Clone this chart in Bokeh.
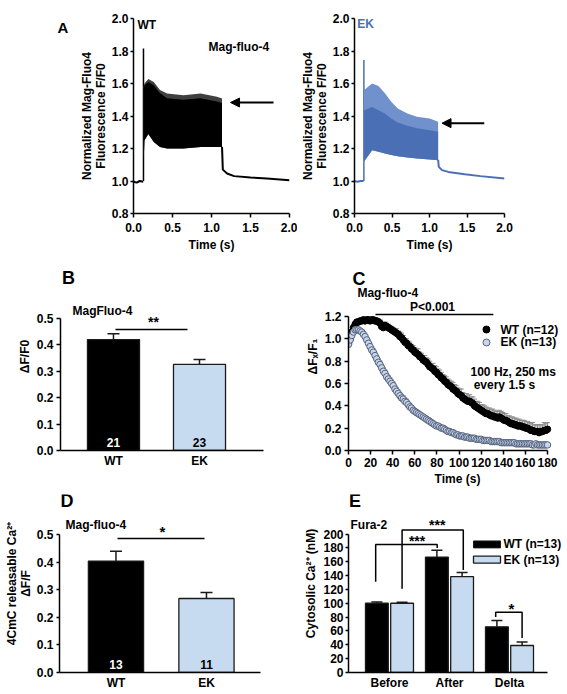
from bokeh.plotting import figure
from bokeh.layouts import row, column
from bokeh.models import (Range1d, FixedTicker, PrintfTickFormatter, Label, Whisker, TeeHead,
                          ColumnDataSource, Arrow, NormalHead)
from bokeh.embed import file_html
from bokeh.resources import INLINE

FONT = "Liberation Sans"

# ---------------- DATA ----------------
# Panel A, WT trace (time s, F/F0)
a_wt_base_t = [0.0, 0.04, 0.08, 0.125]
a_wt_base_v = [0.995, 0.99, 1.0, 0.995]
a_wt_spike_t = 0.128
a_wt_spike_v = 1.815
a_wt_band_t = [0.13, 0.14, 0.19, 0.26, 0.34, 0.43, 0.64, 0.86, 1.07, 1.135]
a_wt_upper = [1.58, 1.60, 1.627, 1.61, 1.56, 1.538, 1.528, 1.538, 1.518, 1.508]
a_wt_mid = [1.56, 1.59, 1.61, 1.59, 1.54, 1.51, 1.50, 1.51, 1.49, 1.48]
a_wt_lower = [1.12, 1.25, 1.29, 1.24, 1.21, 1.20, 1.20, 1.21, 1.21, 1.21]
a_wt_decay_t = [1.135, 1.145, 1.2, 1.29, 1.5, 1.71, 2.0]
a_wt_decay_v = [1.21, 1.07, 1.046, 1.03, 1.022, 1.015, 1.005]

# Panel A, EK trace
a_ek_base_t = [0.0, 0.04, 0.08, 0.122]
a_ek_base_v = [1.0, 0.995, 1.0, 1.0]
a_ek_spike_t = 0.125
a_ek_spike_v = 1.744
a_ek_band_t = [0.128, 0.235, 0.32, 0.406, 0.49, 0.577, 0.705, 0.833, 1.004, 1.115]
a_ek_upper = [1.56, 1.60, 1.585, 1.54, 1.487, 1.446, 1.415, 1.395, 1.385, 1.364]
a_ek_mid = [1.436, 1.456, 1.436, 1.415, 1.385, 1.36, 1.34, 1.325, 1.313, 1.303]
a_ek_lower = [1.12, 1.19, 1.18, 1.17, 1.16, 1.153, 1.145, 1.138, 1.132, 1.128]
a_ek_decay_t = [1.115, 1.124, 1.167, 1.25, 1.47, 1.68, 2.0]
a_ek_decay_v = [1.13, 1.087, 1.067, 1.056, 1.042, 1.03, 1.015]

# Panel B
b_groups = ["WT", "EK"]
b_values = [0.42, 0.326]
b_errors = [0.022, 0.019]
b_counts = ["21", "23"]

# Panel C (one point every 1.5 s)
c_dt = 1.5
c_wt = [
    0.96, 1.00, 1.06, 1.10, 1.13, 1.15, 1.15, 1.16, 1.16, 1.17,
    1.16, 1.17, 1.17, 1.16, 1.17, 1.17, 1.16, 1.16, 1.15, 1.14,
    1.11, 1.10, 1.12, 1.11, 1.10, 1.09, 1.08, 1.07, 1.06, 1.05,
    1.04, 1.02, 1.01, 0.99, 0.97, 0.96, 0.94, 0.93, 0.91, 0.90,
    0.88, 0.87, 0.86, 0.84, 0.83, 0.81, 0.80, 0.79, 0.77, 0.75,
    0.74, 0.73, 0.71, 0.70, 0.68, 0.67, 0.65, 0.64, 0.62, 0.61,
    0.59, 0.58, 0.57, 0.55, 0.54, 0.53, 0.51, 0.50, 0.49, 0.47,
    0.46, 0.45, 0.44, 0.44, 0.43, 0.42, 0.40, 0.39, 0.38, 0.37,
    0.36, 0.35, 0.34, 0.33, 0.33, 0.32, 0.31, 0.31, 0.30, 0.30,
    0.29, 0.30, 0.29, 0.28, 0.27, 0.27, 0.26, 0.25, 0.24, 0.24,
    0.23, 0.23, 0.22, 0.22, 0.22, 0.21, 0.21, 0.20, 0.20, 0.19,
    0.18, 0.18, 0.17, 0.17, 0.17, 0.16, 0.17, 0.17, 0.18, 0.18,
    0.19]
c_wt_err = [
    0.03, 0.03, 0.02, 0.02, 0.02, 0.02, 0.02, 0.02, 0.02, 0.02,
    0.02, 0.02, 0.02, 0.02, 0.02, 0.02, 0.03, 0.02, 0.03, 0.03,
    0.03, 0.03, 0.03, 0.03, 0.03, 0.03, 0.03, 0.03, 0.03, 0.04,
    0.03, 0.04, 0.04, 0.04, 0.03, 0.04, 0.04, 0.04, 0.04, 0.04,
    0.04, 0.04, 0.05, 0.04, 0.04, 0.04, 0.05, 0.04, 0.05, 0.05,
    0.04, 0.05, 0.05, 0.05, 0.05, 0.05, 0.05, 0.04, 0.05, 0.05,
    0.05, 0.05, 0.05, 0.06, 0.05, 0.05, 0.05, 0.05, 0.06, 0.05,
    0.05, 0.06, 0.05, 0.06, 0.05, 0.06, 0.06, 0.05, 0.06, 0.06,
    0.05, 0.06, 0.06, 0.06, 0.05, 0.06, 0.06, 0.06, 0.06, 0.05,
    0.06, 0.06, 0.06, 0.06, 0.06, 0.06, 0.05, 0.06, 0.06, 0.06,
    0.06, 0.06, 0.06, 0.06, 0.05, 0.06, 0.06, 0.06, 0.06, 0.06,
    0.06, 0.07, 0.06, 0.06, 0.06, 0.07, 0.06, 0.06, 0.07, 0.06,
    0.06]
c_ek = [
    0.95, 0.99, 1.03, 1.06, 1.08, 1.08, 1.08, 1.07, 1.06, 1.04,
    1.02, 0.99, 0.96, 0.93, 0.90, 0.88, 0.85, 0.82, 0.79, 0.77,
    0.74, 0.71, 0.69, 0.66, 0.64, 0.62, 0.60, 0.58, 0.55, 0.53,
    0.51, 0.49, 0.47, 0.46, 0.44, 0.43, 0.41, 0.39, 0.38, 0.36,
    0.35, 0.34, 0.33, 0.32, 0.31, 0.30, 0.29, 0.28, 0.27, 0.26,
    0.25, 0.24, 0.23, 0.22, 0.22, 0.21, 0.20, 0.20, 0.19, 0.18,
    0.17, 0.17, 0.16, 0.16, 0.15, 0.14, 0.14, 0.13, 0.13, 0.13,
    0.12, 0.12, 0.12, 0.11, 0.11, 0.11, 0.11, 0.10, 0.10, 0.10,
    0.10, 0.09, 0.09, 0.09, 0.09, 0.09, 0.08, 0.08, 0.08, 0.08,
    0.08, 0.08, 0.07, 0.07, 0.07, 0.07, 0.07, 0.07, 0.07, 0.07,
    0.07, 0.06, 0.06, 0.06, 0.06, 0.06, 0.06, 0.06, 0.06, 0.06,
    0.06, 0.05, 0.05, 0.06, 0.05, 0.05, 0.05, 0.05, 0.05, 0.05,
    0.05]
c_ek_err = [
    0.03, 0.03, 0.03, 0.03, 0.02, 0.02, 0.02, 0.02, 0.02, 0.02,
    0.02, 0.02, 0.03, 0.03, 0.03, 0.03, 0.03, 0.03, 0.03, 0.03,
    0.03, 0.03, 0.03, 0.03, 0.03, 0.03, 0.03, 0.03, 0.03, 0.03,
    0.03, 0.03, 0.03, 0.03, 0.03, 0.03, 0.02, 0.03, 0.02, 0.02,
    0.02, 0.02, 0.02, 0.02, 0.02, 0.02, 0.02, 0.02, 0.02, 0.02,
    0.02, 0.02, 0.02, 0.02, 0.02, 0.02, 0.02, 0.02, 0.02, 0.02,
    0.02, 0.02, 0.02, 0.02, 0.02, 0.02, 0.02, 0.01, 0.02, 0.01,
    0.01, 0.01, 0.01, 0.01, 0.01, 0.01, 0.01, 0.01, 0.01, 0.01,
    0.01, 0.01, 0.01, 0.01, 0.01, 0.01, 0.01, 0.01, 0.01, 0.01,
    0.01, 0.01, 0.01, 0.01, 0.01, 0.01, 0.01, 0.01, 0.01, 0.01,
    0.01, 0.01, 0.01, 0.01, 0.01, 0.01, 0.01, 0.01, 0.01, 0.01,
    0.01, 0.01, 0.01, 0.01, 0.01, 0.01, 0.01, 0.01, 0.01, 0.01,
    0.01]
c_xticks = [0, 20, 40, 60, 80, 100, 120, 140, 160, 180]

# Panel D
d_groups = ["WT", "EK"]
d_values = [0.405, 0.269]
d_errors = [0.036, 0.022]
d_counts = ["13", "11"]

# Panel E
e_categories = ["Before", "After", "Delta"]
e_wt = [100.0, 166.7, 66.0]
e_wt_err = [2.0, 10.0, 9.0]
e_ek = [100.0, 138.6, 39.0]
e_ek_err = [1.5, 6.0, 5.0]

WT_C = "black"
EK_BAR = "#c6dbef"
EK_BLUE_D = "#4a6fb5"
EK_BLUE_L = "#7191cd"


# ---------------- helpers ----------------
def fig(w, h, xr, yr, ml, mr, mt, mb):
    p = figure(width=w, height=h, x_range=Range1d(*xr), y_range=Range1d(*yr),
               output_backend="svg", toolbar_location=None,
               min_border_left=ml, min_border_right=mr,
               min_border_top=mt, min_border_bottom=mb)
    p.outline_line_color = None
    p.grid.visible = False
    p.background_fill_color = "white"
    p.border_fill_color = "white"
    for ax in p.axis:
        ax.axis_line_width = 1.5
        ax.axis_line_color = "black"
        ax.major_tick_line_width = 1.5
        ax.major_tick_line_color = "black"
        ax.major_tick_out = 4
        ax.major_tick_in = 0
        ax.minor_tick_line_color = None
        ax.major_label_text_font = FONT
        ax.major_label_text_font_style = "bold"
        ax.major_label_text_font_size = "12px"
        ax.major_label_text_color = "black"
        ax.major_label_standoff = 3
        ax.axis_label_text_font = FONT
        ax.axis_label_text_font_style = "bold"
        ax.axis_label_text_font_size = "12px"
        ax.axis_label_text_color = "black"
        ax.axis_label_text_line_height = 1.0
        ax.axis_label_standoff = 2
    return p


def label(p, x, y, text, size="12px", align="left", color="black", baseline="middle"):
    p.add_layout(Label(x=x, y=y, text=text, text_font=FONT, text_font_size=size,
                       text_font_style="bold", text_color=color, text_align=align,
                       text_baseline=baseline))


def bar_panel(p, groups, vals, errs, bar_w):
    xs = list(range(len(groups)))
    p.vbar(x=xs, top=vals, width=bar_w, fill_color=[WT_C, EK_BAR],
           line_color="#1a1a1a", line_width=1.3)
    src = ColumnDataSource(dict(x=xs, lo=vals, hi=[v + e for v, e in zip(vals, errs)]))
    p.add_layout(Whisker(source=src, base="x", lower="lo", upper="hi", dimension="height",
                         line_color="#1a1a1a", line_width=1.5, lower_head=None,
                         upper_head=TeeHead(size=12, line_width=1.5, line_color="#1a1a1a")))
    p.xaxis.ticker = FixedTicker(ticks=xs)
    p.xaxis.major_label_overrides = {i: g for i, g in enumerate(groups)}
    p.xaxis.major_tick_out = 0
    p.xaxis.major_label_standoff = 3
    p.yaxis.formatter = PrintfTickFormatter(format="%.1f")
    return xs


# ---------------- Row 1: letter A + two traces ----------------
la = figure(width=76, height=258, x_range=Range1d(0, 76), y_range=Range1d(0, 258),
            output_backend="svg", toolbar_location=None,
            x_axis_location=None, y_axis_location=None, min_border=0)
la.outline_line_color = None
la.grid.visible = False
label(la, 57, 257, "A", size="15px", baseline="top")

a1 = fig(221, 258, (0, 2.0), (0.8, 2.0), 57, 8, 18, 45)
a1.line(a_wt_base_t, a_wt_base_v, line_color="black", line_width=2)
a1.segment(x0=[a_wt_spike_t], y0=[1.0], x1=[a_wt_spike_t], y1=[a_wt_spike_v],
           line_color="black", line_width=1.5)
a1.varea(x=a_wt_band_t, y1=a_wt_lower, y2=a_wt_upper, fill_color="#404040")
a1.varea(x=a_wt_band_t, y1=a_wt_lower, y2=a_wt_mid, fill_color="black")
a1.line(a_wt_decay_t, a_wt_decay_v, line_color="black", line_width=2)

a2 = fig(269, 258, (0, 2.0), (0.8, 2.0), 51, 62, 18, 45)
a2.line(a_ek_base_t, a_ek_base_v, line_color=EK_BLUE_D, line_width=2)
a2.segment(x0=[a_ek_spike_t], y0=[1.0], x1=[a_ek_spike_t], y1=[a_ek_spike_v],
           line_color=EK_BLUE_D, line_width=1.5)
a2.varea(x=a_ek_band_t, y1=a_ek_lower, y2=a_ek_upper, fill_color=EK_BLUE_L)
a2.varea(x=a_ek_band_t, y1=a_ek_lower, y2=a_ek_mid, fill_color=EK_BLUE_D)
a2.line(a_ek_decay_t, a_ek_decay_v, line_color=EK_BLUE_D, line_width=2)

for pa in (a1, a2):
    pa.xaxis.ticker = FixedTicker(ticks=[0, 0.5, 1.0, 1.5, 2.0])
    pa.yaxis.ticker = FixedTicker(ticks=[0.8, 1.0, 1.2, 1.4, 1.6, 1.8, 2.0])
    pa.xaxis.formatter = PrintfTickFormatter(format="%.1f")
    pa.yaxis.formatter = PrintfTickFormatter(format="%.1f")
    pa.xaxis.axis_label = "Time (s)"
    pa.yaxis.axis_label = "Normalized Mag-Fluo4\nFluorescence F/F0"
    pa.xaxis.major_label_standoff = 5
    pa.xaxis.axis_label_standoff = 3
    pa.yaxis.major_tick_out = 3
    pa.yaxis.major_label_standoff = 2
    pa.yaxis.axis_label_standoff = 1

a1.add_layout(Arrow(end=NormalHead(size=9, fill_color="black", line_color="black"),
                    x_start=1.795, y_start=1.483, x_end=1.244, y_end=1.483,
                    line_width=2, line_color="black"))
label(a1, 1.35, 1.823, "Mag-fluo-4", align="center")
label(a1, 0.05, 1.957, "WT")
a2.add_layout(Arrow(end=NormalHead(size=9, fill_color="black", line_color="black"),
                    x_start=1.73, y_start=1.356, x_end=1.167, y_end=1.356,
                    line_width=2, line_color="black"))
label(a2, 0.035, 1.967, "EK", color=EK_BLUE_D)

# ---------------- Panel B ----------------
b = fig(298, 234, (-0.616, 1.744), (0, 0.712), 60, 35, 4, 42)
xs_b = bar_panel(b, b_groups, b_values, b_errors, 0.605)
b.yaxis.ticker = FixedTicker(ticks=[0, 0.1, 0.2, 0.3, 0.4, 0.5])
b.yaxis.bounds = (0, 0.5)
b.yaxis.axis_label = "ΔF/F0"
for i, cnt in enumerate(b_counts):
    label(b, xs_b[i], 0.03, cnt, align="center", color="white" if i == 0 else "black")
b.line([0.023, 0.86], [0.458, 0.458], line_color="black", line_width=1.5)
label(b, 0.465, 0.485, "**", size="14px", align="center")
label(b, -0.477, 0.53, "MagFluo-4")
label(b, -0.60, 0.652, "B", size="18px")

# ---------------- Panel C ----------------
c = fig(268, 234, (0, 197.2), (0, 1.683), 50, 0, 4, 42)
c_t = [i * c_dt for i in range(len(c_wt))]
src_wt = ColumnDataSource(dict(t=c_t, v=c_wt, hi=[v + e for v, e in zip(c_wt, c_wt_err)]))
src_ek = ColumnDataSource(dict(t=c_t, v=c_ek, hi=[v + e for v, e in zip(c_ek, c_ek_err)]))
c.add_layout(Whisker(source=src_wt, base="t", lower="v", upper="hi", dimension="height",
                     line_color="#8a8a8a", line_width=1, lower_head=None,
                     upper_head=TeeHead(size=5, line_color="#8a8a8a", line_width=1)))
c.scatter("t", "v", source=src_wt, size=6.5, fill_color="black", line_color="black")
c.add_layout(Whisker(source=src_ek, base="t", lower="v", upper="hi", dimension="height",
                     line_color="#8a8a8a", line_width=1, lower_head=None,
                     upper_head=TeeHead(size=5, line_color="#8a8a8a", line_width=1)))
c.scatter("t", "v", source=src_ek, size=6.5, fill_color="#c9d5ea", line_color="#55637e",
          line_width=1)
c.xaxis.ticker = FixedTicker(ticks=c_xticks)
c.xaxis.bounds = (0, 180)
c.yaxis.ticker = FixedTicker(ticks=[0, 0.2, 0.4, 0.6, 0.8, 1.0, 1.2])
c.yaxis.bounds = (0, 1.2)
c.yaxis.formatter = PrintfTickFormatter(format="%.1f")
c.xaxis.axis_label = "Time (s)"
c.yaxis.axis_label = "ΔFₓ/F₁"
c.line([24.4, 131], [1.218, 1.218], line_color="black", line_width=1.5)
label(c, 76, 1.283, "P<0.001", align="center")
label(c, 8.1, 1.41, "Mag-fluo-4")
label(c, 3.6, 1.535, "C", size="18px")
c.scatter([124.8], [1.083], size=7, fill_color="black", line_color="black")
c.scatter([124.8], [0.967], size=7, fill_color="#c9d5ea", line_color="#55637e")
label(c, 137.5, 1.083, "WT (n=12)")
label(c, 137.5, 0.967, "EK (n=13)")
label(c, 149, 0.707, "100 Hz, 250 ms", align="center")
label(c, 141, 0.59, "every 1.5 s", align="center")

# ---------------- Panel D ----------------
d = fig(298, 200, (-0.624, 1.597), (0, 0.647), 59, 38, 2, 18)
xs_d = bar_panel(d, d_groups, d_values, d_errors, 0.61)
d.yaxis.ticker = FixedTicker(ticks=[0, 0.1, 0.2, 0.3, 0.4, 0.5])
d.yaxis.bounds = (0, 0.5)
d.yaxis.axis_label = "4CmC releasable Ca²⁺\nΔF/F"
d.yaxis.major_tick_out = 3
d.yaxis.major_label_standoff = 3
d.yaxis.axis_label_standoff = 1
for i, cnt in enumerate(d_counts):
    label(d, xs_d[i], 0.029, cnt, align="center", color="white" if i == 0 else "black")
d.line([0.017, 0.978], [0.487, 0.487], line_color="black", line_width=1.5)
label(d, 0.514, 0.512, "*", size="15px", align="center")
label(d, -0.558, 0.535, "Mag-fluo-4")
label(d, -0.613, 0.622, "D", size="18px")

# ---------------- Panel E ----------------
e = fig(268, 200, (-0.683, 2.95), (0, 257.1), 50, 0, 2, 18)
xs_e = list(range(len(e_categories)))
off = 0.21
x_wt = [x - off for x in xs_e]
x_ek = [x + off for x in xs_e]
e.vbar(x=x_wt, top=e_wt, width=0.38, fill_color=WT_C, line_color="#1a1a1a", line_width=1.3)
e.vbar(x=x_ek, top=e_ek, width=0.38, fill_color=EK_BAR, line_color="#1a1a1a", line_width=1.3)
for xx, vv, ee in ((x_wt, e_wt, e_wt_err), (x_ek, e_ek, e_ek_err)):
    s = ColumnDataSource(dict(x=xx, lo=vv, hi=[v + er for v, er in zip(vv, ee)]))
    e.add_layout(Whisker(source=s, base="x", lower="lo", upper="hi", dimension="height",
                         line_color="#1a1a1a", line_width=1.5, lower_head=None,
                         upper_head=TeeHead(size=11, line_width=1.5, line_color="#1a1a1a")))
e.xaxis.ticker = FixedTicker(ticks=xs_e)
e.xaxis.major_label_overrides = {i: g for i, g in enumerate(e_categories)}
e.xaxis.major_tick_out = 0
e.xaxis.bounds = (-0.683, 2.633)
e.yaxis.ticker = FixedTicker(ticks=list(range(0, 201, 20)))
e.yaxis.bounds = (0, 200)
e.yaxis.formatter = PrintfTickFormatter(format="%d")
e.yaxis.axis_label = "Cytosolic Ca²⁺ (nM)"
e.yaxis.major_tick_out = 3
e.yaxis.major_label_standoff = 2
e.line([-0.23, -0.23, 0.795, 0.795], [131, 184.8, 184.8, 180], line_color="black", line_width=1.5)
e.line([0.21, 0.21, 1.23, 1.23], [121, 206, 206, 148], line_color="black", line_width=1.5)
e.line([1.77, 1.77, 2.21, 2.21], [80, 87, 87, 50], line_color="black", line_width=1.5)
label(e, 0.46, 190, "***", size="14px", align="center")
label(e, 0.795, 213, "***", size="14px", align="center")
label(e, 2.03, 92, "*", size="15px", align="center")
label(e, -0.65, 213, "Fura-2")
label(e, -0.675, 247, "E", size="18px")
e.quad(left=[1.4], right=[1.85], bottom=[180], top=[190], fill_color=WT_C, line_color="#1a1a1a")
e.quad(left=[1.4], right=[1.85], bottom=[158], top=[168], fill_color=EK_BAR, line_color="#1a1a1a",
       line_width=1.3)
label(e, 1.9, 185, "WT (n=13)")
label(e, 1.9, 163, "EK (n=13)")

layout = column(row(la, a1, a2), row(b, c), row(d, e))
open("out.html", "w").write(file_html(layout, INLINE))
